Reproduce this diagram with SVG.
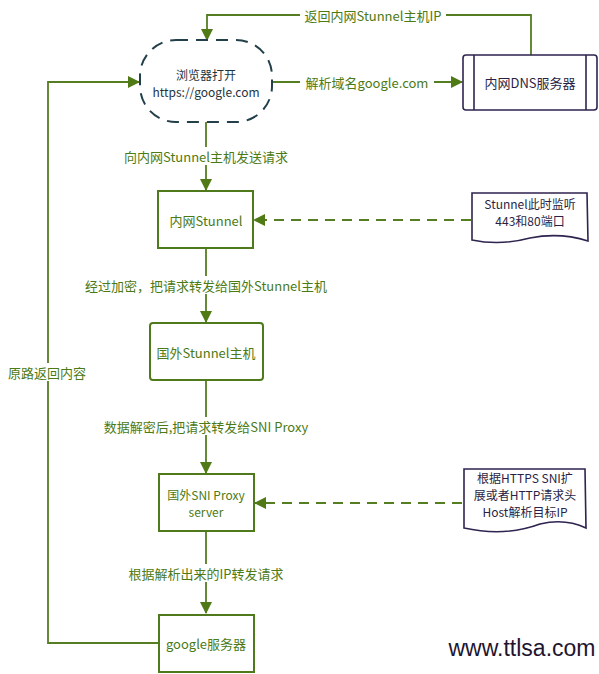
<svg xmlns="http://www.w3.org/2000/svg" width="599" height="674" viewBox="0 0 599 674">
<style>
text{font-family:"Noto Sans CJK SC","Liberation Sans",sans-serif;font-size:13px;text-anchor:middle;dominant-baseline:central}
text.m{font-size:12px}
.g{fill:#4c7a14}
.p{fill:#2a1f45}
.b{fill:#1e3440}
.box{fill:#fff;stroke:#4f7a1c;stroke-width:2}
.note{fill:#fff;stroke:#2f234f;stroke-width:1.6}
.ln{fill:none;stroke:#557d22;stroke-width:1.8}
.dash{stroke-dasharray:10 7}
.lbl{fill:#fff}
</style>
<defs>
<marker id="ah" viewBox="0 0 12 12" refX="11" refY="6" markerWidth="12" markerHeight="12" markerUnits="userSpaceOnUse" orient="auto">
<path d="M0,0 L12,6 L0,12 Z" fill="#4f7a16"/>
</marker>
</defs>
<rect width="599" height="674" fill="#fff"/>
<g id="connectors">
<path class="ln" d="M531,55 L531,15 L207,15 L207,40" marker-end="url(#ah)"/>
<rect class="lbl" x="300" y="6" width="146" height="18"/>
<text class="g" x="373" y="15">返回内网Stunnel主机IP</text>
<path class="ln" d="M272,82 L462,82" marker-end="url(#ah)"/>
<rect class="lbl" x="300" y="73" width="134" height="18"/>
<text class="g" x="367" y="82">解析域名google.com</text>
<path class="ln" d="M206,122 L206,190" marker-end="url(#ah)"/>
<rect class="lbl" x="116" y="147" width="180" height="18"/>
<text class="g" x="206" y="156">向内网Stunnel主机发送请求</text>
<path class="ln dash" d="M471,220 L254,220" marker-end="url(#ah)"/>
<path class="ln" d="M206,248 L206,322" marker-end="url(#ah)"/>
<rect class="lbl" x="78" y="276" width="256" height="18"/>
<text class="g" x="206" y="285">经过加密，把请求转发给国外Stunnel主机</text>
<path class="ln" d="M206,380 L206,473" marker-end="url(#ah)"/>
<rect class="lbl" x="94" y="417" width="224" height="18"/>
<text class="g" x="206" y="426">数据解密后,把请求转发给SNI Proxy</text>
<path class="ln dash" d="M462,503 L255,503" marker-end="url(#ah)"/>
<path class="ln" d="M206,531 L206,613" marker-end="url(#ah)"/>
<rect class="lbl" x="120" y="564" width="172" height="18"/>
<text class="g" x="206" y="573">根据解析出来的IP转发请求</text>
<path class="ln" d="M159,643 L48,643 L48,82 L139,82" marker-end="url(#ah)"/>
<rect class="lbl" x="5" y="363" width="86" height="18"/>
<text class="g" x="47" y="372">原路返回内容</text>
</g>
<g id="browser">
<rect x="140" y="40" width="132" height="82" rx="36" ry="36" fill="#fff" stroke="#23404a" stroke-width="2" stroke-dasharray="12 8"/>
<text class="b m" x="206" y="74">浏览器打开</text>
<text class="b m" x="206" y="91">https://google.com</text>
</g>
<g id="dns">
<rect class="note" x="463" y="55" width="134" height="55" rx="3"/>
<line class="note" x1="474" y1="55" x2="474" y2="110"/>
<line class="note" x1="586" y1="55" x2="586" y2="110"/>
<text class="p" x="530" y="82">内网DNS服务器</text>
</g>
<g id="stunnel-inner">
<rect class="box" x="158" y="191" width="95" height="57"/>
<text class="g" x="206" y="220">内网Stunnel</text>
</g>
<g id="note-listen">
<path class="note" d="M472,193 L587,193 L588,241 Q560,232 530,238 Q500,246 472,240 Z"/>
<text class="p m" x="530" y="203">Stunnel此时监听</text>
<text class="p m" x="530" y="220">443和80端口</text>
</g>
<g id="stunnel-outer">
<rect class="box" x="150" y="323" width="113" height="57" rx="3"/>
<text class="g" x="206" y="352">国外Stunnel主机</text>
</g>
<g id="sni">
<rect class="box" x="159" y="474" width="95" height="57"/>
<text class="g m" x="206" y="494">国外SNI Proxy</text>
<text class="g m" x="206" y="511">server</text>
</g>
<g id="note-sni">
<path class="note" d="M464,469 L585,469 L586,528 Q565,518 540,524 Q505,537 464,528 Z"/>
<text class="p m" x="525" y="477">根据HTTPS SNI扩</text>
<text class="p m" x="525" y="494">展或者HTTP请求头</text>
<text class="p m" x="525" y="511">Host解析目标IP</text>
</g>
<g id="google">
<rect class="box" x="159" y="615" width="95" height="57"/>
<text class="g" x="206" y="643">google服务器</text>
</g>
<text x="522" y="648" style="font-family:'Liberation Sans',sans-serif;font-size:23px;fill:#1e1530">www.ttlsa.com</text>
</svg>
